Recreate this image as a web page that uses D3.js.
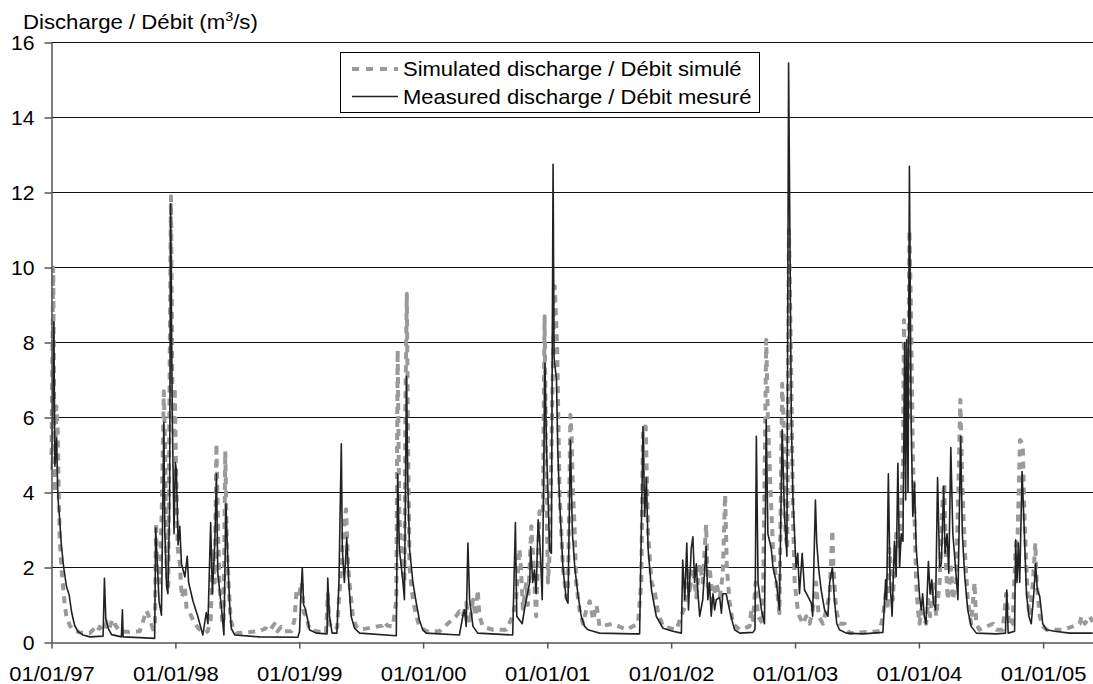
<!DOCTYPE html>
<html><head><meta charset="utf-8">
<script src="https://cdn.jsdelivr.net/npm/d3@7"></script>
<style>
body{margin:0;background:#fff;}
svg text{font-family:"Liberation Sans",Arial,Helvetica,sans-serif;fill:#000;}
</style></head><body>
<svg id="chart" width="1093" height="684"></svg>
<script>
// ---- data ----
const measured = [
["1997-01-01",4.6],["1997-01-05",6.5],["1997-01-08",8.55],["1997-01-11",4.7],["1997-01-16",5.46],["1997-01-18",4.6],["1997-01-20",3.86],["1997-01-25",3.3],["1997-01-30",2.6],["1997-02-06",2.0],["1997-02-14",1.5],["1997-02-22",1.27],["1997-03-01",0.82],["1997-03-10",0.46],["1997-03-20",0.29],["1997-04-04",0.2],["1997-04-24",0.15],["1997-06-02",0.17],["1997-06-06",1.71],["1997-06-10",0.64],["1997-06-17",0.38],["1997-06-27",0.21],["1997-07-26",0.15],["1997-07-29",0.87],["1997-07-31",0.15],["1997-09-18",0.13],["1997-11-01",0.11],["1997-11-04",3.05],["1997-11-08",2.25],["1997-11-14",1.09],["1997-11-21",0.73],["1997-11-28",5.87],["1997-12-01",2.9],["1997-12-06",1.5],["1997-12-10",1.3],["1997-12-15",3.65],["1997-12-18",11.7],["1997-12-23",6.0],["1997-12-28",2.9],
["1998-01-01",4.8],["1998-01-04",4.6],["1998-01-09",2.6],["1998-01-14",3.1],["1998-01-19",2.1],["1998-01-29",1.75],["1998-02-05",2.3],["1998-02-09",1.6],["1998-02-22",1.1],["1998-03-08",0.7],["1998-03-23",0.2],["1998-04-02",0.8],["1998-04-07",0.5],["1998-04-15",3.2],["1998-04-20",1.3],["1998-04-27",2.6],["1998-05-02",4.5],["1998-05-06",1.85],["1998-05-16",1.0],["1998-05-24",0.2],["1998-05-30",3.7],["1998-06-05",2.1],["1998-06-10",1.0],["1998-06-15",0.37],["1998-06-25",0.2],["1998-09-06",0.15],["1998-12-28",0.14],
["1999-01-02",0.3],["1999-01-05",1.1],["1999-01-10",2.0],["1999-01-14",1.0],["1999-01-19",0.9],["1999-01-26",0.6],["1999-01-31",0.34],["1999-02-20",0.25],["1999-03-24",0.23],["1999-03-26",1.72],["1999-03-31",0.7],["1999-04-08",0.25],["1999-04-22",0.25],["1999-04-28",1.6],["1999-05-05",5.3],["1999-05-08",2.5],["1999-05-14",1.6],["1999-05-21",2.8],["1999-05-27",1.6],["1999-06-03",0.7],["1999-06-13",0.38],["1999-06-28",0.25],["1999-10-14",0.18],["1999-10-18",4.5],["1999-10-23",2.5],["1999-11-02",1.67],["1999-11-07",1.14],["1999-11-13",7.1],["1999-11-17",4.25],["1999-11-22",2.5],["1999-12-02",1.6],["1999-12-12",1.05],["1999-12-21",0.6],["1999-12-31",0.34],
["2000-01-10",0.25],["2000-04-17",0.2],["2000-04-27",0.7],["2000-05-02",0.87],["2000-05-07",0.43],["2000-05-12",2.65],["2000-05-17",1.14],["2000-05-27",0.43],["2000-06-10",0.25],["2000-09-21",0.2],["2000-09-29",3.2],["2000-10-03",0.7],["2000-10-11",0.6],["2000-10-19",0.5],["2000-10-26",0.9],["2000-11-10",1.6],["2000-11-13",2.56],["2000-11-19",1.6],["2000-11-24",1.94],["2000-11-29",1.3],["2000-12-05",3.27],["2000-12-11",2.5],["2000-12-17",1.14],["2000-12-25",7.45],["2000-12-30",5.1],
["2001-01-08",2.45],["2001-01-13",2.38],["2001-01-18",12.75],["2001-01-21",7.6],["2001-01-28",7.0],["2001-02-01",5.1],["2001-02-06",3.8],["2001-02-16",2.0],["2001-02-26",1.14],["2001-03-03",1.05],["2001-03-10",5.4],["2001-03-16",2.9],["2001-03-23",2.0],["2001-04-01",1.3],["2001-04-11",0.7],["2001-04-21",0.43],["2001-05-01",0.34],["2001-05-16",0.3],["2001-06-04",0.25],["2001-09-10",0.23],["2001-09-30",0.23],["2001-10-10",5.76],["2001-10-15",3.36],["2001-10-20",4.4],["2001-10-25",2.5],["2001-11-04",1.4],["2001-11-18",0.7],["2001-12-08",0.38],
["2002-01-06",0.3],["2002-01-31",0.25],["2002-02-04",2.2],["2002-02-10",1.14],["2002-02-16",2.65],["2002-02-21",0.87],["2002-03-01",2.5],["2002-03-06",2.82],["2002-03-11",1.6],["2002-03-16",2.1],["2002-03-21",1.3],["2002-03-26",0.7],["2002-04-04",1.14],["2002-04-14",2.56],["2002-04-19",1.14],["2002-04-24",1.6],["2002-04-29",0.7],["2002-05-04",1.3],["2002-05-09",0.87],["2002-05-14",1.14],["2002-05-24",1.2],["2002-05-29",0.78],["2002-06-02",1.3],["2002-06-12",1.3],["2002-06-22",0.87],["2002-07-02",0.5],["2002-07-07",0.34],["2002-07-22",0.25],["2002-08-30",0.27],["2002-09-05",0.35],["2002-09-09",5.5],["2002-09-14",1.6],["2002-09-24",0.87],["2002-10-03",0.5],["2002-10-08",5.94],["2002-10-13",2.9],["2002-10-23",2.5],["2002-10-28",2.0],["2002-11-07",1.6],["2002-11-16",0.87],["2002-11-24",5.67],["2002-12-01",3.36],["2002-12-08",2.3],["2002-12-13",15.45],["2002-12-21",6.0],["2002-12-26",3.8],
["2003-01-04",2.0],["2003-01-09",2.38],["2003-01-14",1.3],["2003-01-22",2.38],["2003-01-29",1.4],["2003-02-08",1.23],["2003-02-18",1.05],["2003-02-22",0.7],["2003-03-02",3.8],["2003-03-06",2.65],["2003-03-12",1.94],["2003-03-19",1.4],["2003-03-29",0.87],["2003-04-08",0.7],["2003-04-13",1.6],["2003-04-21",2.0],["2003-04-27",1.14],["2003-05-04",0.5],["2003-05-12",0.34],["2003-06-01",0.25],["2003-07-20",0.23],["2003-09-17",0.27],["2003-09-25",1.67],["2003-09-28",1.14],["2003-10-03",4.5],["2003-10-08",1.6],["2003-10-14",0.7],["2003-10-21",2.7],["2003-10-26",1.76],["2003-10-31",4.78],["2003-11-05",2.0],["2003-11-10",2.9],["2003-11-15",2.7],["2003-11-20",8.0],["2003-11-23",3.8],["2003-11-26",8.07],["2003-11-30",4.0],["2003-12-04",12.7],["2003-12-09",6.0],["2003-12-14",3.36],["2003-12-19",4.25],["2003-12-24",2.5],["2003-12-29",1.94],
["2004-01-03",1.23],["2004-01-08",0.87],["2004-01-12",1.3],["2004-01-17",0.7],["2004-01-22",0.5],["2004-01-29",2.16],["2004-02-03",1.3],["2004-02-08",1.67],["2004-02-13",1.05],["2004-02-19",0.87],["2004-02-25",4.4],["2004-03-02",2.0],["2004-03-07",2.1],["2004-03-14",4.16],["2004-03-18",2.38],["2004-03-24",2.9],["2004-03-29",1.85],["2004-04-04",5.2],["2004-04-10",2.9],["2004-04-17",2.1],["2004-04-25",1.14],["2004-05-03",5.5],["2004-05-08",2.9],["2004-05-15",1.76],["2004-05-24",0.87],["2004-06-03",0.43],["2004-06-18",0.25],["2004-08-16",0.23],["2004-09-12",0.25],["2004-09-16",1.4],["2004-09-20",0.25],["2004-10-09",0.3],["2004-10-12",2.74],["2004-10-16",1.6],["2004-10-20",2.65],["2004-10-24",1.6],["2004-10-31",4.56],["2004-11-06",3.1],["2004-11-13",1.3],["2004-11-20",0.7],["2004-11-27",0.5],["2004-12-04",1.23],["2004-12-10",2.1],["2004-12-15",1.4],["2004-12-22",1.23],["2004-12-31",0.5],
["2005-01-11",0.34],["2005-02-04",0.3],["2005-03-20",0.25],["2005-05-27",0.25]
];

const simulated = [
["1997-01-01",5.0],["1997-01-06",10.0],["1997-01-09",6.0],["1997-01-11",4.0],["1997-01-15",6.3],["1997-01-19",5.8],["1997-01-22",4.2],["1997-01-25",2.8],["1997-01-30",2.0],["1997-02-04",1.5],["1997-02-09",1.0],["1997-02-14",0.7],["1997-02-24",0.45],["1997-03-05",0.34],["1997-03-25",0.27],["1997-04-24",0.25],["1997-05-08",0.38],["1997-05-17",0.3],["1997-05-23",0.42],["1997-06-04",0.3],["1997-06-13",0.55],["1997-06-21",0.4],["1997-06-30",0.62],["1997-07-09",0.45],["1997-07-21",0.3],["1997-08-19",0.28],["1997-09-18",0.3],["1997-10-08",0.85],["1997-10-17",0.65],["1997-10-27",0.35],["1997-11-02",0.5],["1997-11-05",3.2],["1997-11-08",2.0],["1997-11-16",1.6],["1997-11-22",3.6],["1997-11-28",6.7],["1997-12-02",5.1],["1997-12-06",2.0],["1997-12-11",1.5],["1997-12-15",7.0],["1997-12-19",11.9],["1997-12-23",6.9],["1997-12-27",5.6],["1997-12-30",6.8],
["1998-01-03",4.7],["1998-01-08",2.5],["1998-01-14",2.1],["1998-01-20",1.2],["1998-01-29",1.5],["1998-02-03",0.9],["1998-02-12",0.8],["1998-02-27",0.5],["1998-03-13",0.35],["1998-03-28",0.25],["1998-04-06",0.3],["1998-04-15",0.6],["1998-04-22",2.5],["1998-04-27",1.6],["1998-05-02",5.3],["1998-05-07",3.0],["1998-05-11",1.5],["1998-05-19",0.6],["1998-05-23",0.5],["1998-05-28",5.1],["1998-06-02",2.5],["1998-06-07",1.5],["1998-06-13",0.6],["1998-06-20",0.4],["1998-06-30",0.25],["1998-09-06",0.3],["1998-09-24",0.38],["1998-10-05",0.3],["1998-10-20",0.5],["1998-10-29",0.3],["1998-11-09",0.42],["1998-11-19",0.3],["1998-12-09",0.3],["1998-12-18",0.6],["1998-12-24",1.4],
["1999-01-01",1.3],["1999-01-08",1.6],["1999-01-14",0.8],["1999-01-22",0.7],["1999-01-31",0.34],["1999-03-21",0.25],["1999-03-26",1.3],["1999-03-31",0.5],["1999-04-10",0.35],["1999-04-23",0.4],["1999-04-28",1.14],["1999-05-02",1.6],["1999-05-08",2.5],["1999-05-14",3.2],["1999-05-19",3.55],["1999-05-25",2.0],["1999-05-29",1.6],["1999-06-03",1.14],["1999-06-08",0.7],["1999-06-18",0.43],["1999-06-28",0.34],["1999-09-03",0.45],["1999-09-09",0.55],["1999-09-18",0.45],["1999-10-04",0.43],["1999-10-14",1.14],["1999-10-18",7.8],["1999-10-21",5.1],["1999-10-23",3.4],["1999-10-28",2.5],["1999-11-02",1.94],["1999-11-07",1.6],["1999-11-10",6.5],["1999-11-14",9.3],["1999-11-18",5.1],["1999-11-22",2.0],["1999-12-02",1.14],["1999-12-12",0.7],["1999-12-21",0.43],
["2000-01-10",0.3],["2000-02-18",0.3],["2000-04-07",0.7],["2000-04-17",0.83],["2000-04-27",0.7],["2000-05-07",1.05],["2000-05-17",0.5],["2000-05-27",1.14],["2000-06-03",0.7],["2000-06-10",1.4],["2000-06-15",0.7],["2000-06-25",0.43],["2000-07-24",0.34],["2000-09-02",0.34],["2000-09-21",0.7],["2000-10-01",1.14],["2000-10-11",2.5],["2000-10-16",1.9],["2000-10-21",0.9],["2000-10-31",1.6],["2000-11-05",1.0],["2000-11-15",3.1],["2000-11-24",1.6],["2000-11-29",0.7],["2000-12-09",3.5],["2000-12-19",3.4],["2000-12-24",8.7],["2000-12-29",4.25],
["2001-01-03",1.6],["2001-01-08",2.4],["2001-01-13",5.1],["2001-01-18",7.6],["2001-01-23",9.5],["2001-01-30",7.9],["2001-02-06",4.0],["2001-02-16",2.0],["2001-02-26",1.2],["2001-03-03",1.5],["2001-03-10",6.07],["2001-03-13",5.6],["2001-03-17",4.25],["2001-03-23",2.9],["2001-03-27",1.6],["2001-04-06",0.87],["2001-04-16",0.5],["2001-04-26",0.87],["2001-05-06",1.1],["2001-05-16",0.6],["2001-05-26",1.0],["2001-06-04",0.43],["2001-07-14",0.5],["2001-08-22",0.34],["2001-09-25",0.5],["2001-10-05",1.6],["2001-10-10",5.76],["2001-10-18",5.76],["2001-10-25",2.9],["2001-11-04",1.6],["2001-11-13",1.4],["2001-11-23",0.8],["2001-12-08",0.43],
["2002-01-16",0.34],["2002-02-10",0.96],["2002-02-19",2.0],["2002-02-24",1.3],["2002-03-06",2.0],["2002-03-16",1.2],["2002-03-26",2.1],["2002-04-04",1.6],["2002-04-14",3.14],["2002-04-19",1.5],["2002-04-24",2.0],["2002-05-04",1.1],["2002-05-14",1.6],["2002-05-24",1.2],["2002-06-02",1.8],["2002-06-09",3.94],["2002-06-14",2.0],["2002-06-22",1.1],["2002-07-02",0.5],["2002-07-22",0.34],["2002-08-20",0.43],["2002-08-25",0.87],["2002-08-30",0.6],["2002-09-07",1.6],["2002-09-14",0.7],["2002-09-28",0.5],["2002-10-08",8.07],["2002-10-13",6.0],["2002-10-20",4.25],["2002-10-28",2.5],["2002-11-07",1.6],["2002-11-16",0.78],["2002-11-24",6.9],["2002-11-28",6.0],["2002-12-04",2.9],["2002-12-09",2.5],["2002-12-14",11.0],["2002-12-21",6.9],["2002-12-26",3.36],["2002-12-31",1.6],
["2003-01-09",0.87],["2003-01-14",0.7],["2003-01-24",0.5],["2003-02-03",0.7],["2003-02-13",0.5],["2003-02-22",0.87],["2003-03-04",1.6],["2003-03-12",0.7],["2003-03-24",0.5],["2003-04-03",0.87],["2003-04-13",1.3],["2003-04-21",3.0],["2003-04-24",2.0],["2003-05-02",0.87],["2003-05-12",0.5],["2003-05-27",0.5],["2003-06-11",0.25],["2003-09-07",0.3],["2003-09-17",0.7],["2003-09-25",1.3],["2003-10-01",0.87],["2003-10-06",2.5],["2003-10-16",1.14],["2003-10-26",2.9],["2003-11-05",2.5],["2003-11-15",4.78],["2003-11-18",8.6],["2003-11-23",5.1],["2003-11-26",7.8],["2003-11-30",6.0],["2003-12-04",11.0],["2003-12-09",8.7],["2003-12-14",5.1],["2003-12-19",3.36],["2003-12-24",1.6],["2003-12-29",0.87],
["2004-01-03",0.5],["2004-01-08",0.87],["2004-01-12",0.7],["2004-01-22",0.5],["2004-01-29",1.14],["2004-02-03",0.7],["2004-02-11",1.6],["2004-02-21",0.7],["2004-03-02",1.6],["2004-03-11",3.8],["2004-03-16",4.25],["2004-03-21",2.0],["2004-03-26",1.14],["2004-04-05",2.0],["2004-04-10",1.14],["2004-04-20",1.6],["2004-05-02",6.47],["2004-05-08",4.25],["2004-05-15",2.5],["2004-05-24",1.14],["2004-06-03",0.5],["2004-06-13",1.6],["2004-06-18",0.5],["2004-06-27",0.34],["2004-08-06",0.5],["2004-08-16",0.34],["2004-09-04",0.34],["2004-09-14",1.3],["2004-09-24",0.43],["2004-10-03",0.5],["2004-10-12",2.5],["2004-10-18",2.9],["2004-10-25",5.4],["2004-11-02",5.3],["2004-11-07",3.36],["2004-11-13",2.0],["2004-11-17",1.14],["2004-11-22",0.7],["2004-12-02",1.6],["2004-12-09",2.65],["2004-12-13",1.6],["2004-12-22",0.7],["2004-12-31",0.43],
["2005-01-11",0.34],["2005-02-09",0.34],["2005-03-01",0.34],["2005-03-30",0.43],["2005-04-19",0.5],["2005-04-24",0.7],["2005-05-04",0.5],["2005-05-18",0.7],["2005-05-27",0.55]
];

const yTicks = [0,2,4,6,8,10,12,14,16];
const xTickDates = ["1997-01-01","1998-01-01","1999-01-01","2000-01-01","2001-01-01","2002-01-01","2003-01-01","2004-01-01","2005-01-01"];
const xTickLabels = ["01/01/97","01/01/98","01/01/99","01/01/00","01/01/01","01/01/02","01/01/03","01/01/04","01/01/05"];
const seriesNames = ["Simulated discharge / Débit simulé","Measured discharge / Débit mesuré"];
const yTitleParts = ["Discharge / Débit (m","3","/s)"];
const xDomain = ["1997-01-01","2005-05-28"];

// ---- drawing ----
const parse = d3.timeParse("%Y-%m-%d");
const svg = d3.select("#chart");
const FS = 20;
const x = d3.scaleTime().domain(xDomain.map(parse)).range([51.5, 1093]);
const y = d3.scaleLinear().domain([0,16]).range([642.5, 42.5]);

// gridlines
svg.append("g").selectAll("line").data(yTicks.filter(v=>v>0)).join("line")
  .attr("x1",51.5).attr("x2",1093)
  .attr("y1",d=>y(d)).attr("y2",d=>y(d))
  .attr("stroke","#111").attr("stroke-width",1);

const line = d3.line().x(d=>x(parse(d[0]))).y(d=>y(d[1]));

svg.append("path").datum(simulated)
  .attr("d",line).attr("fill","none")
  .attr("stroke","#9a9a9a").attr("stroke-width",4)
  .attr("stroke-dasharray","7,6").attr("stroke-linejoin","round");

svg.append("path").datum(measured)
  .attr("d",line).attr("fill","none")
  .attr("stroke","#222").attr("stroke-width",1.6)
  .attr("stroke-linejoin","round");

// axes
const axisColor = "#555";
const yAxis = svg.append("g").attr("transform","translate(51.5,0)")
  .call(d3.axisLeft(y).tickValues(yTicks).tickFormat(d3.format("d")).tickSize(7).tickSizeOuter(0).tickPadding(10));
const xAxis = svg.append("g").attr("transform","translate(0,642.5)")
  .call(d3.axisBottom(x).tickValues(xTickDates.map(parse)).tickFormat((d,i)=>xTickLabels[i]).tickSize(6).tickSizeOuter(0));
[yAxis,xAxis].forEach(g=>{
  g.select(".domain").attr("stroke",axisColor).attr("stroke-width",1.5);
  g.selectAll(".tick line").attr("stroke",axisColor).attr("stroke-width",1.5);
  g.selectAll("text").attr("font-size",FS).attr("font-family",null).attr("fill","#000");
});
yAxis.selectAll(".tick text").attr("x",null).attr("dy","0.35em")
  .attr("transform","translate(-17,0) scale(1.06,1)");
xAxis.selectAll(".tick text").attr("y",null).attr("dy",null)
  .attr("transform","translate(0,38.5) scale(1.1,1)");

// axis title
const t = svg.append("text").attr("transform","translate(23,29) scale(1.11,1)").attr("font-size",FS);
t.append("tspan").text(yTitleParts[0]);
t.append("tspan").attr("font-size",13).attr("dy",-8).text(yTitleParts[1]);
t.append("tspan").attr("font-size",FS).attr("dy",8).text(yTitleParts[2]);

// legend
const lg = svg.append("g");
lg.append("rect").attr("x",340.5).attr("y",52.5).attr("width",419).attr("height",60)
  .attr("fill","#fff").attr("stroke","#000").attr("stroke-width",1);
const rows = [
  {name:seriesNames[0], y:69, stroke:"#9a9a9a", w:4, dash:"7,7"},
  {name:seriesNames[1], y:96.5, stroke:"#222", w:1.6, dash:null}
];
rows.forEach(r=>{
  lg.append("line").attr("x1",352).attr("x2",398).attr("y1",r.y).attr("y2",r.y)
    .attr("stroke",r.stroke).attr("stroke-width",r.w).attr("stroke-dasharray",r.dash);
  lg.append("text").attr("transform",`translate(403,${r.y+7}) scale(1.1,1)`)
    .attr("font-size",FS).text(r.name);
});
</script>
</body></html>
